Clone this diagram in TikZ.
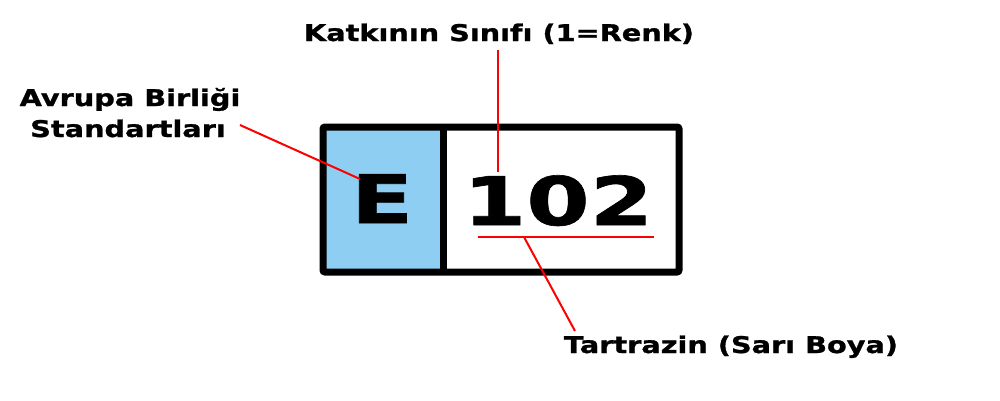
\documentclass[tikz,border=0pt]{standalone}
\usepackage{fontspec}
\newfontfamily\lbl[FakeStretch=1.25,FakeBold=1.2]{DejaVu Sans}
\newfontfamily\bigf[FakeStretch=1.36,FakeBold=1]{DejaVu Sans}
\definecolor{eblue}{RGB}{142,206,243}
\begin{document}
\begin{tikzpicture}[x=1pt,y=-1pt,
  lab/.style={font=\lbl\bfseries\fontsize{23}{26}\selectfont, anchor=base, inner sep=0pt},
  big/.style={font=\bigf\bfseries\fontsize{67}{70}\selectfont, anchor=base, inner sep=0pt},
  pointer/.style={draw=red, line width=2pt}]
\useasboundingbox (0,0) rectangle (1000,400);
% box
\path[fill=eblue] (323,127) rectangle (443,272);
\draw[line width=7pt, rounded corners=2pt] (323,127) rectangle (679,272);
\draw[line width=7pt] (443,127) -- (443,272);
% texts
\node[big] (e) at (382,223) {E};
\node[big] (num) at (558,225) {102};
\node[lab] (klass) at (499,41) {Katkının Sınıfı (1=Renk)};
\node[lab] (eu1) at (130,106) {Avrupa Birliği};
\node[lab] (eu2) at (128,137) {Standartları};
\node[lab] (tart) at (731,353) {Tartrazin (Sarı Boya)};
% pointers
\coordinate (klassend) at (498,50);
\coordinate (numtop) at (498,172);
\coordinate (ulL) at (478,237);
\coordinate (ulR) at (654,237);
\coordinate (ulM) at (524,237);
\coordinate (tartend) at (575,331);
\coordinate (eustart) at (240,125);
\coordinate (eend) at (360,179);
\draw[pointer] (klassend) -- (numtop);
\draw[pointer] (ulL) -- (ulR);
\draw[pointer] (ulM) -- (tartend);
\draw[pointer] (eustart) -- (eend);
\end{tikzpicture}
\end{document}
